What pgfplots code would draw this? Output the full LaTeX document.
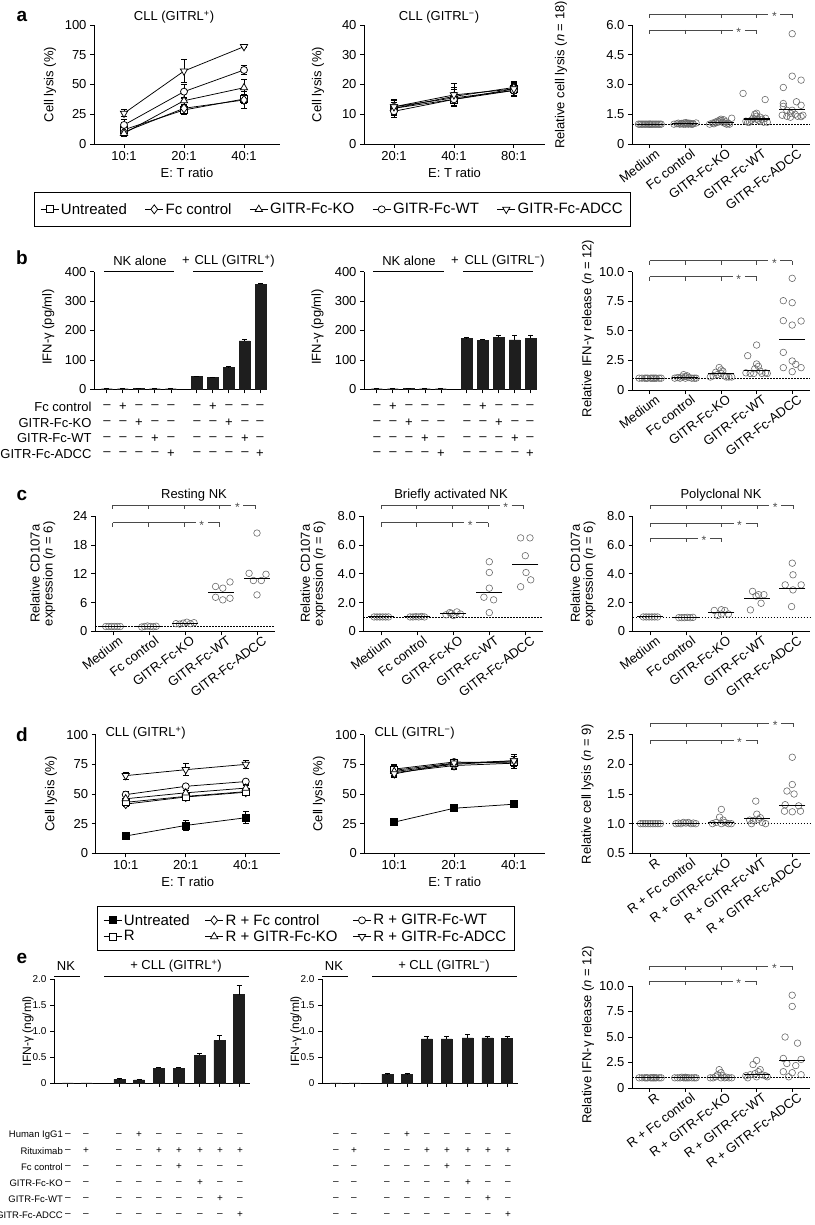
\documentclass[border=0pt]{standalone}
\usepackage{fontspec}
\setmainfont{Liberation Sans}
\usepackage{pgfplots}
\pgfplotsset{compat=1.18}

\newcommand{\fs}[1]{\fontsize{#1}{#1}\selectfont}
\definecolor{ptgray}{HTML}{6A6A6A}
\definecolor{barfill}{HTML}{1E1E1E}
\definecolor{brkgray}{HTML}{4A4A4A}

\pgfplotsset{
  base/.style={scale only axis, axis lines*=left,
    axis line style={line width=0.75pt},
    every tick/.style={black, line width=0.75pt},
    tick align=outside, major tick length=4pt,
    xtick pos=bottom, ytick pos=left,
    ticklabel style={font=\fs{13}},
    label style={font=\fs{13}},
    /pgf/number format/assume math mode=true,
    clip=false},
  yl/.style 2 args={ylabel style={at={(axis description cs:#1,#2)}, anchor=center}},
  lc/.style={base, xmin=-0.5, ymin=0, xtick={0,1,2}, xlabel={E: T ratio}, ylabel={Cell lysis (\%)}},
  sr/.style={black, line width=0.75pt, mark size=3.5pt,
    error bars/y dir=both, error bars/y explicit,
    error bars/error bar style={line width=0.75pt, solid},
    error bars/error mark options={rotate=90, mark size=3pt, line width=0.75pt}},
  mk/.style={mark options={solid, fill=white, line width=0.75pt}},
  mkf/.style={mark options={solid, fill=black, line width=0.75pt}},
  mkd/.style={mark options={solid, fill=white, line width=0.75pt, rotate=180}},
  sc/.style={base, xmin=-0.5, xmax=4.5, xtick={0,1,2,3,4},
    xticklabel style={rotate=37, anchor=north east, inner sep=1pt, xshift=5pt, yshift=-2pt, font=\fs{13}}},
  pts/.style={only marks, mark=o, mark size=3.3pt, ptgray, mark options={line width=0.6pt}},
  med/.style={only marks, mark=-, mark size=13pt, black, mark options={line width=1.1pt}},
  refl/.style={black, dash pattern=on 1.5pt off 1.5pt, line width=0.8pt},
  bc/.style={base, ymin=0, xticklabels={}},
  bars/.style={ybar, bar width=11pt, fill=barfill, draw=barfill, bar shift=0pt,
    error bars/y dir=plus, error bars/y explicit,
    error bars/error bar style={line width=0.75pt, black},
    error bars/error mark options={rotate=90, mark size=2.5pt, line width=0.75pt, black}},
  legend image code/.code={\draw[mark repeat=2, mark phase=2, #1] plot coordinates {(0pt,0pt) (9pt,0pt) (18pt,0pt)};},
}

\newcommand{\brk}[3]{% axis left px, y px, last index
  \pgfmathsetmacro{\xa}{#1+17.8}%
  \pgfmathsetmacro{\xb}{#1+17.8+35.6*#3}%
  \pgfmathsetmacro{\xs}{#1+17.8+35.6*(#3-0.5)}%
  \draw[brkgray, line width=0.75pt] (\xa,#2) -- (\xs-6,#2) (\xs+6,#2) -- (\xb,#2);
  \node[font=\fs{12}, inner sep=0pt, brkgray] at (\xs,#2+2.5) {*};
  \foreach \i in {0,...,#3}{\pgfmathsetmacro{\xt}{#1+17.8+35.6*\i}\draw[brkgray, line width=0.75pt] (\xt,#2) -- (\xt,#2+4);}%
}

\begin{document}
\begin{tikzpicture}
\useasboundingbox (0pt,0pt) rectangle (814pt,-1225pt);

%%%%%%%%%%%%%%%%%%%% ROW A
\begin{axis}[lc, yl={-0.237}{0.5}, at={(94pt,-144pt)}, anchor=south west, width=186pt, height=119pt,
  xmax=2.6, ymax=100, ytick={0,25,50,75,100}, xticklabels={10:1,20:1,40:1},
  legend cell align=left,
  legend style={at={(axis description cs:1.282,-0.403)}, anchor=north, legend columns=5,
    font=\fs{15}, draw=black, inner xsep=6pt, inner ysep=9pt,
    /tikz/every even column/.append style={column sep=16pt}}]
\addplot[sr, mk, mark=square*] coordinates {(0,12) +- (0,5) (1,28.6) +- (0,4) (2,37.8) +- (0,4)};
\addlegendentry{Untreated}
\addplot[sr, mk, mark=diamond*, mark size=4.5pt] coordinates {(0,10) +- (0,3) (1,30) +- (0,3) (2,37) +- (0,7)};
\addlegendentry{Fc control}
\addplot[sr, mk, mark=triangle*, mark size=4.2pt] coordinates {(0,9) +- (0,3) (1,36.4) +- (0,3) (2,47.3) +- (0,7)};
\addlegendentry{GITR-Fc-KO}
\addplot[sr, mk, mark=*] coordinates {(0,16) +- (0,5) (1,44) +- (0,6) (2,62.2) +- (0,4)};
\addlegendentry{GITR-Fc-WT}
\addplot[sr, mkd, mark=triangle*, mark size=4.2pt] coordinates {(0,25.8) +- (0,3) (1,61.3) +- (0,9.5) (2,81.8) +- (0,1)};
\addlegendentry{GITR-Fc-ADCC}
\end{axis}

\begin{axis}[lc, yl={-0.254}{0.5}, at={(364pt,-144pt)}, anchor=south west, width=181pt, height=119pt,
  xmax=2.52, ymax=40, ytick={0,10,20,30,40}, xticklabels={20:1,40:1,80:1}]
\addplot[sr, mk, mark=square*] coordinates {(0,12) +- (0,2.5) (1,15) +- (0,2.5) (2,18.5) +- (0,2)};
\addplot[sr, mk, mark=diamond*, mark size=4.5pt] coordinates {(0,12.5) +- (0,2) (1,15.5) +- (0,3) (2,18) +- (0,2)};
\addplot[sr, mk, mark=triangle*, mark size=4.2pt] coordinates {(0,12) +- (0,2) (1,16) +- (0,3) (2,19) +- (0,2)};
\addplot[sr, mk, mark=*] coordinates {(0,11) +- (0,2) (1,15) +- (0,2.5) (2,18) +- (0,2)};
\addplot[sr, mkd, mark=triangle*, mark size=4.2pt] coordinates {(0,12.5) +- (0,2.5) (1,16.5) +- (0,3.8) (2,18.5) +- (0,2.2)};
\end{axis}

\begin{axis}[sc, yl={-0.399}{0.58}, at={(632pt,-144pt)}, anchor=south west, width=178pt, height=119pt,
  ymin=0, ymax=6, ytick={0,1.5,3,4.5,6}, yticklabels={0,1.5,3.0,4.5,6.0},
  xticklabels={Medium,Fc control,GITR-Fc-KO,GITR-Fc-WT,GITR-Fc-ADCC},
  ylabel={Relative cell lysis (\textit{n} = 18)}]
\addplot[refl] coordinates {(-0.5,1) (4.5,1)};
\addplot[pts] coordinates {(-0.32,1) (-0.24,1) (-0.16,1) (-0.08,1) (0,1) (0.08,1) (0.16,1) (0.24,1) (0.32,1)
 (-0.28,1) (-0.2,1) (-0.12,1) (-0.04,1) (0.04,1) (0.12,1) (0.2,1) (0.28,1) (0,1)};
\addplot[pts] coordinates {(0.68,1) (0.76,1.02) (0.84,1) (0.9,1.04) (0.96,1.06) (1.0,1) (1.04,1.03) (1.1,1.05) (1.16,1)
 (1.22,1.02) (1.3,1.06) (0.8,1.05) (0.88,1.02) (0.94,1) (1.02,1.08) (1.08,1) (1.14,1.04) (1.2,1)};
\addplot[pts] coordinates {(1.68,1) (1.76,1.05) (1.84,1.1) (1.9,1.15) (1.96,1.2) (2.0,1.25) (2.04,1.1) (2.1,1.05) (2.16,1)
 (2.3,1.3) (1.8,1.02) (1.88,1.08) (1.94,1.12) (2.02,1.18) (2.08,1.22) (2.14,1.12) (2.2,1.04) (2.24,1)};
\addplot[pts] coordinates {(2.62,2.55) (3.24,2.24) (2.7,1.15) (2.8,1.1) (2.9,1.3) (2.95,1.5) (3.0,1.4) (3.0,1.55) (3.05,1.2)
 (3.1,1.35) (3.15,1.25) (3.2,1.1) (3.25,1.3) (3.3,1.1) (2.85,1.2) (3.0,1.25) (3.1,1.15) (2.75,1.1)};
\addplot[pts] coordinates {(4.0,5.56) (4.0,3.42) (4.25,3.22) (3.75,2.85) (3.75,2.04) (4.12,2.13) (4.25,1.95) (3.75,1.9) (3.85,1.7)
 (3.72,1.45) (3.85,1.4) (3.95,1.55) (4.0,1.7) (4.08,1.5) (4.15,1.4) (4.25,1.38) (4.3,1.45) (3.95,1.35)};
\addplot[med] coordinates {(0,1) (1,1.02) (2,1.08) (3,1.26) (4,1.76)};
\end{axis}

%%%%%%%%%%%%%%%%%%%% ROW B
\begin{axis}[bc, yl={-0.264}{0.53}, at={(94pt,-389.3pt)}, anchor=south west, width=173pt, height=117.6pt,
  xmin=0.2, xmax=11, ymax=400, ytick={0,100,200,300,400},
  xtick={1,2,3,4,5,6.6,7.6,8.6,9.6,10.6}, ylabel={IFN-γ (pg/ml)}]
\addplot[bars] coordinates {(1,2) +- (0,1) (2,2) +- (0,1) (3,3) +- (0,1) (4,2) +- (0,1) (5,2) +- (0,1)
 (6.6,43) +- (0,2) (7.6,40) +- (0,2) (8.6,74) +- (0,3) (9.6,165) +- (0,6) (10.6,357) +- (0,5)};
\end{axis}

\begin{axis}[bc, yl={-0.269}{0.53}, at={(364pt,-389.3pt)}, anchor=south west, width=173pt, height=117.6pt,
  xmin=0.2, xmax=11, ymax=400, ytick={0,100,200,300,400},
  xtick={1,2,3,4,5,6.6,7.6,8.6,9.6,10.6}, ylabel={IFN-γ (pg/ml)}]
\addplot[bars] coordinates {(1,2) +- (0,1) (2,2) +- (0,1) (3,3) +- (0,1) (4,2) +- (0,1) (5,2) +- (0,1)
 (6.6,173) +- (0,3) (7.6,167) +- (0,3) (8.6,177) +- (0,8) (9.6,168) +- (0,17) (10.6,173) +- (0,12)};
\end{axis}

\begin{axis}[sc, yl={-0.247}{0.52}, at={(632pt,-390pt)}, anchor=south west, width=178pt, height=118.3pt,
  ymin=0, ymax=10, ytick={0,2.5,5,7.5,10}, yticklabels={0,2.5,5.0,7.5,10.0},
  xticklabels={Medium,Fc control,GITR-Fc-KO,GITR-Fc-WT,GITR-Fc-ADCC},
  ylabel={Relative IFN-γ release (\textit{n} = 12)}]
\addplot[refl] coordinates {(-0.5,1) (4.5,1)};
\addplot[pts] coordinates {(-0.3,1) (-0.22,1) (-0.14,1) (-0.06,1) (0.02,1) (0.1,1) (0.18,1) (0.26,1) (0.32,1) (-0.1,1) (0.06,1) (0.14,1)};
\addplot[pts] coordinates {(0.7,1) (0.78,1.05) (0.85,1) (0.9,1.1) (0.95,1.3) (1.0,1.15) (1.0,1) (1.05,1.2) (1.1,1.05) (1.18,1) (1.25,1) (1.3,1)};
\addplot[pts] coordinates {(1.7,1.1) (1.78,1.2) (1.85,1.5) (1.9,1.3) (1.95,1.9) (2.0,1.7) (2.0,1.4) (2.05,1.6) (2.1,1.2) (2.15,1.1) (2.22,1.1) (2.3,1.1)};
\addplot[pts] coordinates {(3.0,3.8) (2.75,2.9) (3.0,2.2) (3.05,2.0) (2.95,1.8) (3.1,1.6) (2.7,1.45) (2.82,1.4) (2.92,1.4) (3.15,1.4) (3.25,1.45) (3.3,1.4)};
\addplot[pts] coordinates {(4.0,9.44) (3.75,7.55) (4.0,7.38) (3.75,5.86) (4.0,5.49) (4.25,5.83) (3.75,3.18) (4.0,2.45) (4.1,2.17) (3.75,1.89) (4.25,1.89) (4.0,1.55)};
\addplot[med] coordinates {(0,1) (1,1.05) (2,1.4) (3,1.65) (4,4.28)};
\end{axis}

%%%%%%%%%%%%%%%%%%%% ROW C
\begin{axis}[sc, yl={-0.29}{0.5}, at={(95pt,-631.3pt)}, anchor=south west, width=180pt, height=115pt,
  ymin=0, ymax=24, ytick={0,6,12,18,24},
  xticklabels={Medium,Fc control,GITR-Fc-KO,GITR-Fc-WT,GITR-Fc-ADCC},
  ylabel style={align=center}, ylabel={Relative CD107a\\expression (\textit{n} = 6)}]
\addplot[refl] coordinates {(-0.5,1) (4.5,1)};
\addplot[pts] coordinates {(-0.2,1) (-0.12,1) (-0.04,1) (0.04,1) (0.12,1) (0.2,1)};
\addplot[pts] coordinates {(0.8,0.9) (0.88,1) (0.96,1.1) (1.04,1) (1.12,0.95) (1.2,1.05)};
\addplot[pts] coordinates {(1.75,1.6) (1.85,1.5) (1.95,1.7) (2.05,1.9) (2.15,1.6) (2.25,1.8)};
\addplot[pts] coordinates {(2.85,9.35) (3.05,9.0) (3.25,10.3) (2.85,7.1) (3.05,6.56) (3.25,6.9)};
\addplot[pts] coordinates {(4.0,20.5) (3.78,12.1) (4.25,11.9) (3.9,10.6) (4.12,10.6) (4.0,7.6)};
\addplot[med] coordinates {(0,1) (1,1) (2,1.7) (3,8.1) (4,11.1)};
\end{axis}

\begin{axis}[sc, yl={-0.28}{0.5}, at={(363.3pt,-631.3pt)}, anchor=south west, width=180pt, height=115pt,
  ymin=0, ymax=8, ytick={0,2,4,6,8}, yticklabels={0,2.0,4.0,6.0,8.0},
  xticklabels={Medium,Fc control,GITR-Fc-KO,GITR-Fc-WT,GITR-Fc-ADCC},
  ylabel style={align=center}, ylabel={Relative CD107a\\expression (\textit{n} = 6)}]
\addplot[refl] coordinates {(-0.5,1) (4.5,1)};
\addplot[pts] coordinates {(-0.2,1) (-0.12,1) (-0.04,1) (0.04,1) (0.12,1) (0.2,1)};
\addplot[pts] coordinates {(0.8,1) (0.88,1) (0.96,1.02) (1.04,1) (1.12,1.03) (1.2,1)};
\addplot[pts] coordinates {(1.8,1.15) (1.9,1.3) (2.0,1.1) (2.1,1.35) (2.2,1.2) (1.95,1.25)};
\addplot[pts] coordinates {(3.0,4.84) (3.0,4.09) (3.0,3.0) (2.85,2.37) (3.12,2.19) (3.0,1.3)};
\addplot[pts] coordinates {(3.87,6.5) (4.13,6.5) (4.0,5.26) (4.02,4.09) (4.15,3.58) (3.87,3.1)};
\addplot[med] coordinates {(0,1) (1,1) (2,1.26) (3,2.7) (4,4.67)};
\end{axis}

\begin{axis}[sc, yl={-0.28}{0.5}, at={(632.7pt,-631.3pt)}, anchor=south west, width=177.3pt, height=115pt,
  ymin=0, ymax=8, ytick={0,2,4,6,8}, yticklabels={0,2.0,4.0,6.0,8.0},
  xticklabels={Medium,Fc control,GITR-Fc-KO,GITR-Fc-WT,GITR-Fc-ADCC},
  ylabel style={align=center}, ylabel={Relative CD107a\\expression (\textit{n} = 6)}]
\addplot[refl] coordinates {(-0.5,1) (4.5,1)};
\addplot[pts] coordinates {(-0.2,1) (-0.12,1) (-0.04,1) (0.04,1) (0.12,1) (0.2,1)};
\addplot[pts] coordinates {(0.8,0.95) (0.88,0.95) (0.96,0.95) (1.04,0.97) (1.12,0.95) (1.2,0.97)};
\addplot[pts] coordinates {(1.8,1.45) (1.9,1.1) (2.0,1.2) (2.1,1.45) (2.2,1.2) (2.0,1.5)};
\addplot[pts] coordinates {(2.88,2.78) (3.05,2.55) (3.2,2.55) (3.12,1.95) (2.82,1.49) (2.98,2.45)};
\addplot[pts] coordinates {(4.0,4.74) (4.02,3.93) (3.8,3.23) (4.25,3.23) (4.02,2.88) (3.98,1.72)};
\addplot[med] coordinates {(0,1) (1,0.95) (2,1.3) (3,2.3) (4,2.95)};
\end{axis}

%%%%%%%%%%%%%%%%%%%% ROW D
\begin{axis}[lc, yl={-0.243}{0.5}, at={(95.7pt,-853.3pt)}, anchor=south west, width=184.3pt, height=118.6pt,
  xmax=2.57, ymax=100, ytick={0,25,50,75,100}, xticklabels={10:1,20:1,40:1},
  legend cell align=left,
  legend style={at={(axis description cs:0.007,-0.444)}, anchor=north west, legend columns=3,
    font=\fs{15}, draw=black, inner xsep=6pt, inner ysep=6pt,
    /tikz/every even column/.append style={column sep=13pt}}]
\addplot[sr, mkf, mark=square*] coordinates {(0,14.6) +- (0,1.5) (1,23.5) +- (0,4) (2,30) +- (0,5)};
\addlegendentry{Untreated}
\addplot[sr, mk, mark=diamond*, mark size=4.5pt] coordinates {(0,41.5) +- (0,2) (1,47.5) +- (0,2) (2,51.5) +- (0,2)};
\addlegendentry{R + Fc control}
\addplot[sr, mk, mark=*] coordinates {(0,49.5) +- (0,3) (1,56.5) +- (0,2) (2,60.5) +- (0,2)};
\addlegendentry{R + GITR-Fc-WT}
\addplot[sr, mk, mark=square*] coordinates {(0,43) +- (0,3) (1,48) +- (0,2) (2,52) +- (0,2)};
\addlegendentry{R}
\addplot[sr, mk, mark=triangle*, mark size=4.2pt] coordinates {(0,46) +- (0,2) (1,51) +- (0,2) (2,55) +- (0,2)};
\addlegendentry{R + GITR-Fc-KO}
\addplot[sr, mkd, mark=triangle*, mark size=4.2pt] coordinates {(0,65.5) +- (0,3) (1,70.5) +- (0,5) (2,75) +- (0,3)};
\addlegendentry{R + GITR-Fc-ADCC}
\end{axis}

\begin{axis}[lc, yl={-0.25}{0.5}, at={(364.3pt,-853.3pt)}, anchor=south west, width=180.7pt, height=118.6pt,
  xmax=2.52, ymax=100, ytick={0,25,50,75,100}, xticklabels={10:1,20:1,40:1}]
\addplot[sr, mkf, mark=square*] coordinates {(0,26.3) +- (0,1) (1,38) +- (0,1.5) (2,41.4) +- (0,1.5)};
\addplot[sr, mk, mark=diamond*, mark size=4.5pt] coordinates {(0,68) +- (0,3) (1,74) +- (0,3) (2,76) +- (0,3)};
\addplot[sr, mk, mark=*] coordinates {(0,71) +- (0,4) (1,77) +- (0,2) (2,76) +- (0,4)};
\addplot[sr, mk, mark=square*] coordinates {(0,70) +- (0,4) (1,76) +- (0,3) (2,77) +- (0,5)};
\addplot[sr, mk, mark=triangle*, mark size=4.2pt] coordinates {(0,69) +- (0,3) (1,75) +- (0,3) (2,78) +- (0,4)};
\addplot[sr, mkd, mark=triangle*, mark size=4.2pt] coordinates {(0,67) +- (0,3) (1,76) +- (0,3) (2,78) +- (0,5)};
\end{axis}

\begin{axis}[sc, yl={-0.255}{0.5}, at={(632.7pt,-853.3pt)}, anchor=south west, width=177.3pt, height=118.6pt,
  ymin=0.5, ymax=2.5, ytick={0.5,1,1.5,2,2.5}, yticklabels={0.5,1.0,1.5,2.0,2.5},
  xticklabels={R,R + Fc control,R + GITR-Fc-KO,R + GITR-Fc-WT,R + GITR-Fc-ADCC},
  ylabel={Relative cell lysis (\textit{n} = 9)}]
\addplot[refl] coordinates {(-0.5,1) (4.5,1)};
\addplot[pts] coordinates {(-0.28,1) (-0.21,1) (-0.14,1) (-0.07,1) (0,1) (0.07,1) (0.14,1) (0.21,1) (0.28,1)};
\addplot[pts] coordinates {(0.72,1) (0.79,1.01) (0.86,1) (0.93,1.02) (1.0,1.01) (1.07,1.02) (1.14,1) (1.21,1.01) (1.28,1)};
\addplot[pts] coordinates {(2.0,1.24) (1.95,1.11) (2.05,1.06) (1.75,1.0) (1.85,1.02) (2.0,1.0) (2.1,1.02) (2.2,1.0) (2.28,1.0)};
\addplot[pts] coordinates {(2.97,1.38) (3.0,1.16) (3.1,1.1) (2.8,1.06) (2.9,1.05) (3.05,1.07) (3.15,1.02) (3.25,1.0) (2.85,1.0)};
\addplot[pts] coordinates {(4.0,2.12) (4.0,1.66) (3.85,1.55) (4.05,1.5) (3.8,1.32) (4.18,1.3) (3.78,1.21) (4.0,1.2) (4.23,1.21)};
\addplot[med] coordinates {(0,1) (1,1.01) (2,1.02) (3,1.08) (4,1.31)};
\end{axis}

%%%%%%%%%%%%%%%%%%%% ROW E
\begin{axis}[bc, yl={-0.133}{0.5}, at={(54pt,-1083pt)}, anchor=south west, width=196pt, height=104pt,
  ticklabel style={font=\fs{10}}, ylabel style={font=\fs{12}},
  xmin=0, xmax=9.9, ymax=2, ytick={0,0.5,1,1.5,2}, yticklabels={0,0.5,1.0,1.5,2.0},
  xtick={0.7,1.65,3.3,4.3,5.3,6.3,7.35,8.35,9.35}, ylabel={IFN-γ (ng/ml)}]
\addplot[bars] coordinates {(0.7,0.005) (1.65,0.005) (3.3,0.07) +- (0,0.01) (4.3,0.06) +- (0,0.01) (5.3,0.28) +- (0,0.02)
 (6.3,0.28) +- (0,0.02) (7.35,0.53) +- (0,0.04) (8.35,0.82) +- (0,0.1) (9.35,1.7) +- (0,0.17)};
\end{axis}

\begin{axis}[bc, yl={-0.133}{0.5}, at={(322pt,-1083pt)}, anchor=south west, width=196pt, height=104pt,
  ticklabel style={font=\fs{10}}, ylabel style={font=\fs{12}},
  xmin=0, xmax=9.9, ymax=2, ytick={0,0.5,1,1.5,2}, yticklabels={0,0.5,1.0,1.5,2.0},
  xtick={0.7,1.65,3.3,4.3,5.3,6.3,7.35,8.35,9.35}, ylabel={IFN-γ (ng/ml)}]
\addplot[bars] coordinates {(0.7,0.005) (1.65,0.005) (3.3,0.17) +- (0,0.01) (4.3,0.17) +- (0,0.01) (5.3,0.85) +- (0,0.05)
 (6.3,0.85) +- (0,0.05) (7.35,0.87) +- (0,0.06) (8.35,0.87) +- (0,0.02) (9.35,0.86) +- (0,0.03)};
\end{axis}

\begin{axis}[sc, yl={-0.247}{0.52}, at={(632pt,-1088pt)}, anchor=south west, width=178pt, height=102pt,
  ymin=0, ymax=10, ytick={0,2.5,5,7.5,10}, yticklabels={0,2.5,5.0,7.5,10.0},
  xticklabels={R,R + Fc control,R + GITR-Fc-KO,R + GITR-Fc-WT,R + GITR-Fc-ADCC},
  ylabel={Relative IFN-γ release (\textit{n} = 12)}]
\addplot[refl] coordinates {(-0.5,1) (4.5,1)};
\addplot[pts] coordinates {(-0.3,1) (-0.22,1) (-0.14,1) (-0.06,1) (0.02,1) (0.1,1) (0.18,1) (0.26,1) (0.32,1) (-0.1,1) (0.06,1) (0.14,1)};
\addplot[pts] coordinates {(0.7,1) (0.78,1) (0.85,1) (0.9,1.05) (0.95,1) (1.0,1.05) (1.05,1) (1.1,1) (1.18,1) (1.25,1) (1.3,1) (1.0,1)};
\addplot[pts] coordinates {(1.7,1) (1.78,1) (1.85,1.1) (1.9,1.3) (1.95,1.8) (2.0,1.5) (2.0,1.0) (2.05,1.2) (2.1,1.0) (2.15,1.05) (2.22,1.0) (2.3,1.0)};
\addplot[pts] coordinates {(3.0,2.7) (2.9,2.3) (3.1,1.8) (3.05,1.6) (2.95,1.4) (3.15,1.3) (2.7,1.2) (2.82,1.3) (3.25,1.2) (3.3,1.1) (2.75,1.0) (3.0,1.1)};
\addplot[pts] coordinates {(4.0,9.1) (4.0,8.0) (3.8,5.0) (4.15,4.4) (3.75,2.9) (4.25,2.8) (3.85,2.4) (4.1,2.2) (3.75,1.6) (4.0,1.5) (4.25,1.3) (3.9,1.1)};
\addplot[med] coordinates {(0,1) (1,1) (2,1.05) (3,1.35) (4,2.7)};
\end{axis}

%%%%%%%%%%%%%%%%%%%% ANNOTATIONS
\begin{scope}[x=1pt, y=-1pt]
\tikzset{lett/.style={font=\bfseries\fs{19}}, ttl/.style={font=\fs{13}}, sgn/.style={font=\fs{13}, inner sep=0pt}}
\node[lett] at (22,16) {a};
\node[lett] at (22,258) {b};
\node[lett] at (22,495) {c};
\node[lett] at (22,735) {d};
\node[lett] at (22,958) {e};

\node[ttl] at (174,17) {CLL (GITRL\textsuperscript{+})};
\node[ttl] at (439,17) {CLL (GITRL\textsuperscript{−})};
\node[ttl] at (194,495) {Resting NK};
\node[ttl] at (451,495) {Briefly activated NK};
\node[ttl] at (721,495) {Polyclonal NK};
\node[ttl, anchor=west] at (102,733) {CLL (GITRL\textsuperscript{+})};
\node[ttl, anchor=west] at (371,733) {CLL (GITRL\textsuperscript{−})};

% brackets
\brk{632}{14}{4} \brk{632}{30}{3}
\brk{632}{260.7}{4} \brk{632}{276.7}{3}
\brk{95}{505.3}{4} \brk{95}{522.7}{3}
\brk{363.3}{505.3}{4} \brk{363.3}{522.7}{3}
\brk{632.7}{505.3}{4} \brk{632.7}{523.3}{3} \brk{632.7}{538.3}{2}
\brk{632.7}{723}{4} \brk{632.7}{740}{3}
\brk{632}{966}{4} \brk{632}{981}{3}

% b group labels
\node[ttl] at (140,261) {NK alone};
\node[ttl] at (186,261) {+};
\node[ttl, anchor=west] at (191,261) {CLL (GITRL\textsuperscript{+})};
\draw[line width=0.75pt] (104,271.7) -- (174,271.7) (193,271.7) -- (263,271.7);
\node[ttl] at (409,261) {NK alone};
\node[ttl] at (455,261) {+};
\node[ttl, anchor=west] at (461,261) {CLL (GITRL\textsuperscript{−})};
\draw[line width=0.75pt] (373,271.7) -- (444,271.7) (463,271.7) -- (533,271.7);

% b sign table
\node[ttl, anchor=east] at (95,406.7) {Fc control};
\node[ttl, anchor=east] at (95,422.7) {GITR-Fc-KO};
\node[ttl, anchor=east] at (95,438.3) {GITR-Fc-WT};
\node[ttl, anchor=east] at (95,454) {GITR-Fc-ADCC};
\foreach \off in {0,270}{
 \foreach \r/\yy in {1/406.7,2/422.7,3/438.3,4/454}{
  \foreach \i/\xx in {0/107,1/123,2/139,3/155,4/171,5/197,6/213,7/229,8/245,9/260}{
    \pgfmathtruncatemacro{\j}{mod(\i,5)}
    \ifnum\j=\r \node[sgn] at (\xx+\off,\yy) {+};\else \node[sgn] at (\xx+\off,\yy) {–};\fi
  }}}

% e group labels
\node[ttl] at (66,966) {NK};
\node[ttl] at (176,966) {+ CLL (GITRL\textsuperscript{+})};
\draw[line width=0.75pt] (54,976) -- (80,976) (104,976) -- (249,976);
\node[ttl] at (334,966) {NK};
\node[ttl] at (444,966) {+ CLL (GITRL\textsuperscript{−})};
\draw[line width=0.75pt] (322,976) -- (348,976) (372,976) -- (517,976);

% e sign tables
\tikzset{esg/.style={font=\fs{10}, inner sep=0pt}, elab/.style={font=\fs{9.5}, anchor=east, inner sep=0pt}}
\node[elab] at (63,1135) {Human IgG1};
\node[elab] at (63,1151) {Rituximab};
\node[elab] at (63,1167) {Fc control};
\node[elab] at (63,1183) {GITR-Fc-KO};
\node[elab] at (63,1199) {GITR-Fc-WT};
\node[elab] at (63,1215) {GITR-Fc-ADCC};
\foreach \off in {0,268}{
 \foreach \yy/\pl in {1135/{3},1151/{1,4,5,6,7,8},1167/{5},1183/{6},1199/{7},1215/{8}}{
  \foreach \i/\xx in {0/68,1/86,2/119,3/139,4/159,5/179,6/200,7/220,8/240}{
    \gdef\sg{–}
    \foreach \p in \pl {\ifnum\p=\i \xdef\sg{+}\fi}
    \node[esg] at (\xx+\off,\yy) {\sg};
  }}}
\end{scope}
\end{tikzpicture}
\end{document}
